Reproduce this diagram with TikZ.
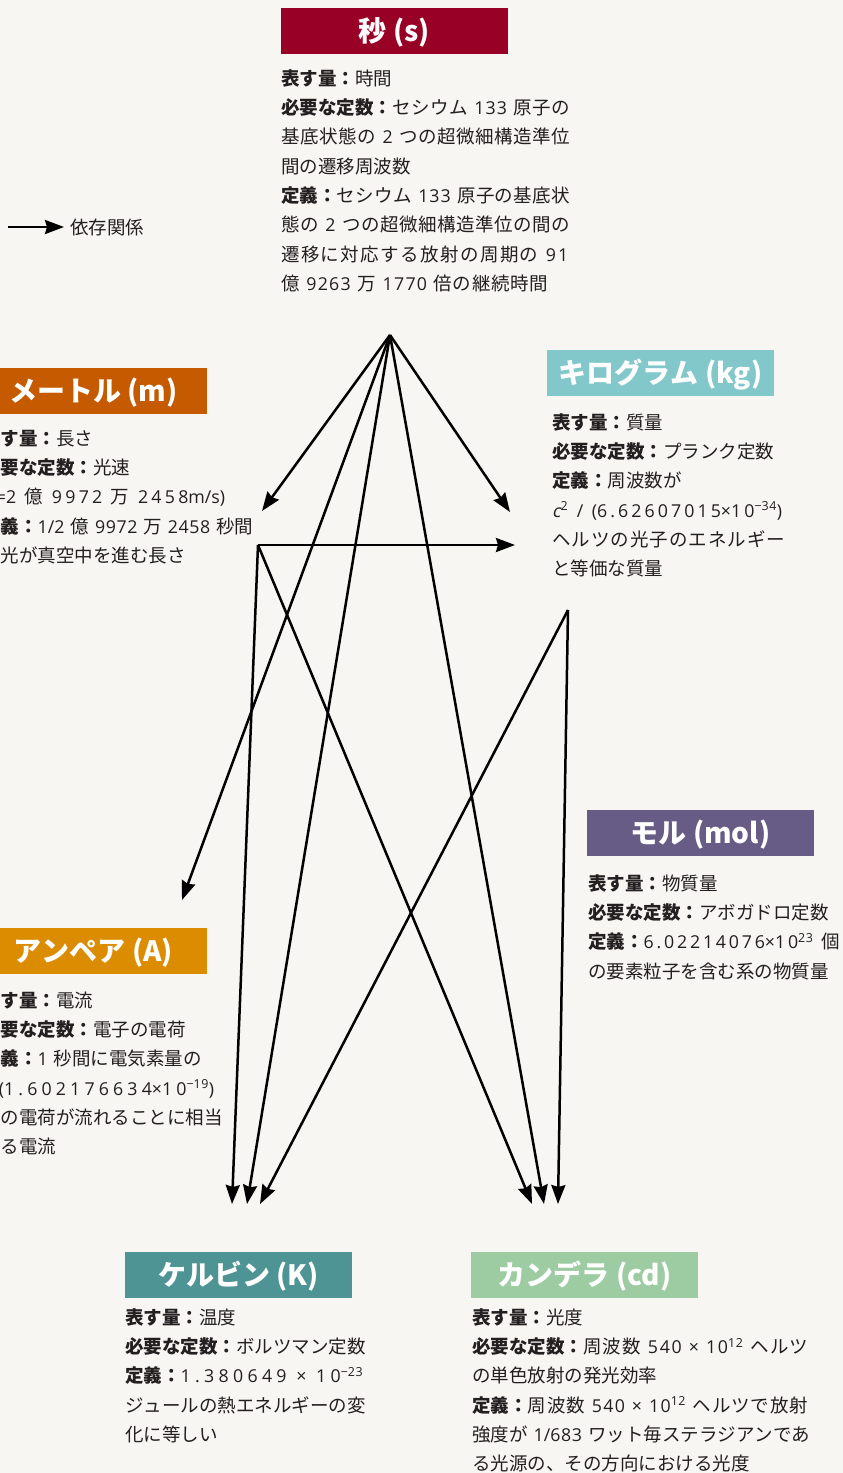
\documentclass[tikz,border=0pt]{standalone}
\usepackage{fontspec}
\setmainfont{Noto Sans CJK JP}
\newfontfamily\latf[Scale=0.96]{Open Sans}
\newfontfamily\latit[Scale=0.96,FakeSlant=0.2]{Open Sans}
\usetikzlibrary{arrows.meta}
\definecolor{bg}{HTML}{F7F6F2}
\definecolor{txt}{HTML}{231F20}
\definecolor{cS}{HTML}{990026}
\definecolor{cM}{HTML}{C55A00}
\definecolor{cKg}{HTML}{82C8CA}
\definecolor{cMol}{HTML}{665C86}
\definecolor{cA}{HTML}{DB8C00}
\definecolor{cK}{HTML}{4F9494}
\definecolor{cCd}{HTML}{9DCBA2}
% inter-character glue for justified lines
\XeTeXinterchartokenstate=1
\newXeTeXintercharclass\cjkc
\newXeTeXintercharclass\digc
\newcount\ccnt
\ccnt="3000 \loop \XeTeXcharclass\ccnt=\cjkc \advance\ccnt by 1 \ifnum\ccnt<"3100 \repeat
\ccnt="4E00 \loop \XeTeXcharclass\ccnt=\cjkc \advance\ccnt by 1 \ifnum\ccnt<"A000 \repeat
\ccnt="FF00 \loop \XeTeXcharclass\ccnt=\cjkc \advance\ccnt by 1 \ifnum\ccnt<"FF60 \repeat
\ccnt=`0 \loop \XeTeXcharclass\ccnt=\digc \advance\ccnt by 1 \ifnum\ccnt<58 \repeat
\XeTeXcharclass`.=\digc
\XeTeXinterchartoks\cjkc\cjkc={\hskip0pt plus 1pt\relax}
\XeTeXinterchartoks\digc\digc={\hskip0.6pt plus 1pt\relax}
\newcommand\bdl[1]{\textbf{\XeTeXinterchartokenstate=0 #1}}
\newcommand\la[1]{{\latf #1}}
\newcommand\itc[1]{{\latit #1}}
\newcommand\sups[1]{\textsuperscript{#1}}
\newcommand\fstrut{\rule{0pt}{20pt}}
\newcommand\jl[2]{\makebox[#1][s]{#2}}
\newcommand\bodysetup{\fontsize{18.5}{29.3}\selectfont\spaceskip=6pt plus 1pt\relax}
\begin{document}
\begin{tikzpicture}[x=1pt,y=-1pt,
  titlebox/.style={fill=#1, text=white, minimum width=227pt, minimum height=46pt, inner sep=0pt,
    font=\fontsize{28}{30}\selectfont\bfseries, text height=25pt, text depth=4pt},
  bodytext/.style={anchor=north west, inner sep=0pt, align=left, text=txt,
    font=\bodysetup},
  dep/.style={line width=2.5pt, draw=black, -{Stealth[length=19pt,width=14pt,inset=2pt]}},
]
\useasboundingbox[fill=bg] (0,0) rectangle (843,1473);

% title boxes
\node[titlebox=cS] (tS) at (394.5,31) {秒 (s)};
\node[titlebox=cM] (tM) at (93.5,391) {メートル (m)};
\node[titlebox=cKg] (tKg) at (660.5,373) {キログラム (kg)};
\node[titlebox=cMol] (tMol) at (700.5,833) {モル (mol)};
\node[titlebox=cA] (tA) at (93.5,951) {アンペア (A)};
\node[titlebox=cK] (tK) at (238.5,1275) {ケルビン (K)};
\node[titlebox=cCd] (tCd) at (584.5,1275) {カンデラ (cd)};

% body texts
\node[bodytext] (bS) at (281,65) {\fstrut\bdl{表す量：}時間\\
\jl{289pt}{\bdl{必要な定数：}セシウム \la{133} 原子の}\\
\jl{289pt}{基底状態の \la{2} つの超微細構造準位}\\
間の遷移周波数\\
\jl{289pt}{\bdl{定義：}セシウム \la{133} 原子の基底状}\\
\jl{289pt}{態の \la{2} つの超微細構造準位の間の}\\
\jl{287pt}{遷移に対応する放射の周期の \la{91}}\\
\jl{267pt}{億 \la{9263} 万 \la{1770} 倍の継続時間}};

\node[bodytext] (bM) at (-18,425) {\fstrut\bdl{表す量：}長さ\\
\bdl{必要な定数：}光速\\
\jl{243pt}{\la{(\itc{c}=2} 億 \la{9972} 万 \la{2458m/s)}}\\
\jl{267pt}{\bdl{定義：}\la{1/2} 億 \la{9972} 万 \la{2458} 秒間}\\
に光が真空中を進む長さ};

\node[bodytext] (bKg) at (552,409) {\fstrut\bdl{表す量：}質量\\
\bdl{必要な定数：}プランク定数\\
\bdl{定義：}周波数が\\
\jl{230pt}{\la{\itc{c}\sups{2} / (6.62607015×10\sups{−34})}}\\
\jl{233pt}{ヘルツの光子のエネルギー}\\
と等価な質量};

\node[bodytext] (bMol) at (588,870) {\fstrut\bdl{表す量：}物質量\\
\bdl{必要な定数：}アボガドロ定数\\
\jl{252pt}{\bdl{定義：}\la{6.02214076×10\sups{23}} 個}\\
の要素粒子を含む系の物質量};

\node[bodytext] (bA) at (-18,987) {\fstrut\bdl{表す量：}電流\\
\bdl{必要な定数：}電子の電荷\\
\bdl{定義：}\la{1} 秒間に電気素量の\\
\jl{232pt}{\la{1/(1.602176634×10\sups{−19})}}\\
\jl{237pt}{倍の電荷が流れることに相当}\\
する電流};

\node[bodytext] (bK) at (125,1304) {\fstrut\bdl{表す量：}温度\\
\bdl{必要な定数：}ボルツマン定数\\
\jl{238pt}{\bdl{定義：}\la{1.380649} \la{×} \la{10\sups{−23}}}\\
\jl{238pt}{ジュールの熱エネルギーの変}\\
化に等しい};

\node[bodytext] (bCd) at (472,1304) {\fstrut\bdl{表す量：}光度\\
\jl{336pt}{\bdl{必要な定数：}周波数 \la{540} \la{×} \la{10\sups{12}} ヘルツ}\\
の単色放射の発光効率\\
\jl{336pt}{\bdl{定義：}周波数 \la{540} \la{×} \la{10\sups{12}} ヘルツで放射}\\
\jl{336pt}{強度が \la{1/683} ワット毎ステラジアンであ}\\
る光源の、その方向における光度};

% legend
\coordinate (lgA) at (8,227);
\coordinate (lgB) at (64,227);
\draw[dep] (lgA) -- (lgB);
\node[anchor=west, inner sep=0pt, text=txt, font=\fontsize{18.5}{22}\selectfont] (lgT) at (70,227) {依存関係};

% connector points
\coordinate (sOut) at (390,335);
\coordinate (mOut) at (258,545);
\coordinate (kgOut) at (568,610);
\coordinate (mIn) at (262,511);
\coordinate (kgInS) at (510,512);
\coordinate (kgInM) at (515,545);
\coordinate (aIn) at (182,900);
\coordinate (kIn1) at (232,1204);
\coordinate (kIn2) at (247,1204);
\coordinate (kIn3) at (260,1204);
\coordinate (cdIn1) at (532,1204);
\coordinate (cdIn2) at (544,1204);
\coordinate (cdIn3) at (558,1204);

\draw[dep] (sOut) -- (mIn);
\draw[dep] (sOut) -- (kgInS);
\draw[dep] (sOut) -- (aIn);
\draw[dep] (sOut) -- (kIn2);
\draw[dep] (sOut) -- (cdIn2);
\draw[dep] (mOut) -- (kgInM);
\draw[dep] (mOut) -- (kIn1);
\draw[dep] (mOut) -- (cdIn1);
\draw[dep] (kgOut) -- (kIn3);
\draw[dep] (kgOut) -- (cdIn3);
\end{tikzpicture}
\end{document}
